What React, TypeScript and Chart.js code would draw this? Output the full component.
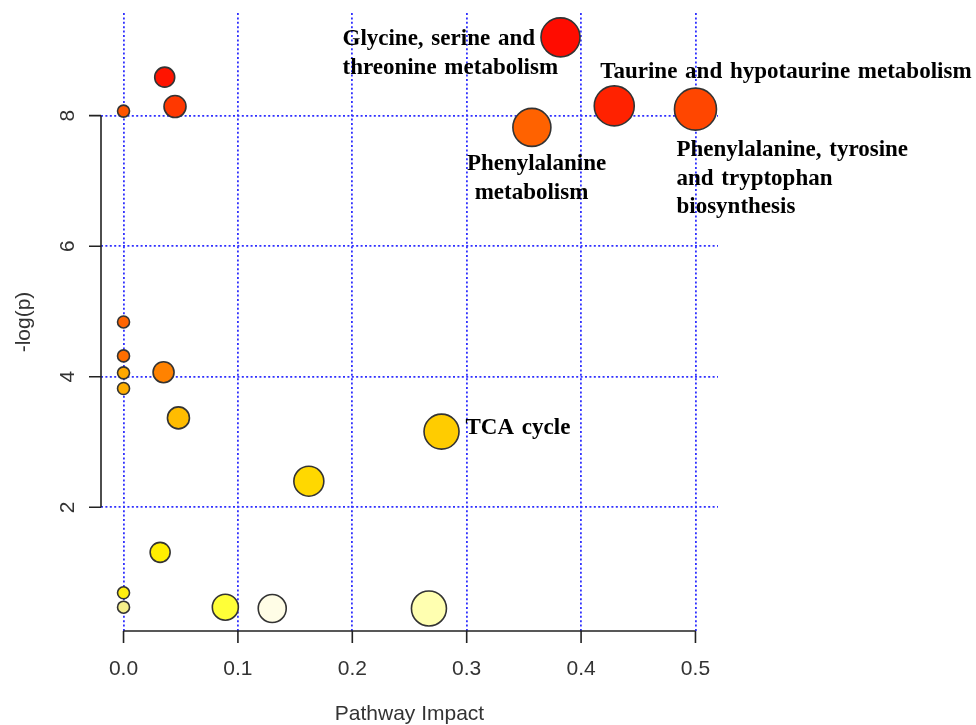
import React, { useEffect, useRef } from "react";
import { Chart, registerables } from "chart.js";

Chart.register(...registerables);

// ---- data ----
const pathwayNames = [
  "Glycine, serine and threonine metabolism",
  "Taurine and hypotaurine metabolism",
  "Phenylalanine, tyrosine and tryptophan biosynthesis",
  "Phenylalanine metabolism",
  "TCA cycle",
  "p6", "p7", "p8", "p9", "p10", "p11", "p12", "p13", "p14",
  "p15", "p16", "p17", "p18", "p19", "p20", "p21",
];
const pathwayImpact = [
  0.382, 0.429, 0.5, 0.357, 0.278, 0.162, 0.267, 0.130, 0.089, 0.032,
  0.0, 0.0, 0.048, 0.035, 0.0, 0.0, 0.0, 0.0, 0.036, 0.045, 0.0,
];
const negLogP = [
  9.2, 8.15, 8.1, 7.82, 3.16, 2.4, 0.45, 0.45, 0.47, 1.31,
  0.69, 0.47, 3.37, 4.07, 4.84, 4.32, 4.06, 3.82, 8.59, 8.14, 8.07,
];
const bubbleRadius = [
  19.5, 20, 21, 19, 17.5, 15, 17.5, 14, 13, 10,
  6, 6, 11, 10.5, 6, 6, 6, 6, 10, 11, 6,
];
const bubbleColors = [
  "#ff0c00", "#ff2200", "#ff4600", "#ff6200", "#ffcc00", "#ffd800", "#ffffb0", "#fffde6", "#ffff38", "#ffee00",
  "#ffee10", "#f5ef8a", "#ffbc00", "#ff8200", "#ff6400", "#ff6e00", "#ffa800", "#ffae00", "#ff1400", "#ff3800", "#ff5400",
];

const xTicks = [0, 0.1, 0.2, 0.3, 0.4, 0.5];
const xTickLabels = ["0.0", "0.1", "0.2", "0.3", "0.4", "0.5"];
const yTicks = [2, 4, 6, 8];
const yTickLabels = ["2", "4", "6", "8"];
const xTitle = "Pathway Impact";
const yTitle = "-log(p)";

// annotated pathways (index into data arrays) and their text lines
const annotations = [
  { index: 0, lines: ["Glycine, serine and", "threonine metabolism"] },
  { index: 1, lines: ["Taurine and hypotaurine metabolism"] },
  { index: 2, lines: ["Phenylalanine, tyrosine", "and tryptophan", "biosynthesis"] },
  { index: 3, lines: ["Phenylalanine", " metabolism"] },
  { index: 4, lines: ["TCA cycle"] },
];
// label placement relative to the bubble centre (pixels)
const annotationOffsets = [
  { dx: -218, dy: 8 },
  { dx: -14, dy: -28 },
  { dx: -19, dy: 47 },
  { dx: -65, dy: 43 },
  { dx: 24, dy: 2 },
];

const GRID_COLOR = "#3030ff";
const AXIS_COLOR = "#222222";
const TEXT_COLOR = "#333333";
const SANS = "'Liberation Sans', Arial, sans-serif";
const SERIF = "'Liberation Serif', 'Times New Roman', serif";

const rAxesPlugin = {
  id: "rAxes",
  afterDraw(chart: any) {
    const { ctx, chartArea } = chart;
    const xs = chart.scales.x;
    const ys = chart.scales.y;
    ctx.save();
    // axis lines (R style)
    ctx.strokeStyle = AXIS_COLOR;
    ctx.lineWidth = 1.6;
    const yb = chartArea.bottom;
    const xl = chartArea.left;
    ctx.beginPath();
    ctx.moveTo(xs.getPixelForValue(xTicks[0]), yb);
    ctx.lineTo(xs.getPixelForValue(xTicks[xTicks.length - 1]), yb);
    xTicks.forEach((v) => {
      const px = xs.getPixelForValue(v);
      ctx.moveTo(px, yb);
      ctx.lineTo(px, yb + 12);
    });
    ctx.moveTo(xl, ys.getPixelForValue(yTicks[0]));
    ctx.lineTo(xl, ys.getPixelForValue(yTicks[yTicks.length - 1]));
    yTicks.forEach((v) => {
      const py = ys.getPixelForValue(v);
      ctx.moveTo(xl, py);
      ctx.lineTo(xl - 12, py);
    });
    ctx.stroke();

    // tick labels
    ctx.fillStyle = TEXT_COLOR;
    ctx.font = `21px ${SANS}`;
    ctx.textAlign = "center";
    ctx.textBaseline = "alphabetic";
    xTicks.forEach((v, i) => {
      ctx.fillText(xTickLabels[i], xs.getPixelForValue(v), yb + 44);
    });
    yTicks.forEach((v, i) => {
      ctx.save();
      ctx.translate(xl - 27, ys.getPixelForValue(v));
      ctx.rotate(-Math.PI / 2);
      ctx.fillText(yTickLabels[i], 0, 0);
      ctx.restore();
    });
    // axis titles
    ctx.fillText(xTitle, (chartArea.left + chartArea.right) / 2, yb + 89);
    ctx.save();
    ctx.translate(xl - 71, (chartArea.top + chartArea.bottom) / 2);
    ctx.rotate(-Math.PI / 2);
    ctx.fillText(yTitle, 0, 0);
    ctx.restore();

    // pathway annotations
    ctx.fillStyle = "#000000";
    ctx.font = `bold 23px ${SERIF}`;
    ctx.textAlign = "left";
    try {
      (ctx as any).wordSpacing = "2px";
    } catch (e) {
      /* ignore */
    }
    annotations.forEach((a, k) => {
      const px = xs.getPixelForValue(pathwayImpact[a.index]);
      const py = ys.getPixelForValue(negLogP[a.index]);
      const off = annotationOffsets[k];
      a.lines.forEach((line, j) => {
        ctx.fillText(line, px + off.dx, py + off.dy + j * 28.5);
      });
    });
    ctx.restore();
  },
};

export default function App() {
  const canvasRef = useRef<HTMLCanvasElement>(null);

  useEffect(() => {
    if (!canvasRef.current) return;
    const data = pathwayImpact.map((x, i) => ({ x, y: negLogP[i], r: bubbleRadius[i] }));
    const chart = new Chart(canvasRef.current, {
      type: "bubble",
      data: {
        labels: pathwayNames,
        datasets: [
          {
            label: "Pathways",
            data,
            backgroundColor: bubbleColors,
            borderColor: "#333333",
            borderWidth: 1.6,
            hoverRadius: 0,
            clip: false,
          } as any,
        ],
      },
      options: {
        animation: false,
        responsive: false,
        devicePixelRatio: 1,
        events: [],
        layout: { autoPadding: false, padding: { left: 101, right: 258, top: 13, bottom: 94 } },
        plugins: {
          legend: { display: false },
          tooltip: { enabled: false },
        },
        scales: {
          x: {
            type: "linear",
            min: -0.0197,
            max: 0.5197,
            afterBuildTicks: (s: any) => {
              s.ticks = xTicks.map((v) => ({ value: v }));
            },
            afterFit: (s: any) => {
              s.height = 0;
            },
            ticks: { display: false },
            title: { display: false },
            grid: { color: GRID_COLOR, lineWidth: 1.8, drawTicks: false },
            border: { display: false, dash: [2, 2.4] },
          },
          y: {
            type: "linear",
            min: 0.105,
            max: 9.573,
            afterBuildTicks: (s: any) => {
              s.ticks = yTicks.map((v) => ({ value: v }));
            },
            afterFit: (s: any) => {
              s.width = 0;
            },
            ticks: { display: false },
            title: { display: false },
            grid: { color: GRID_COLOR, lineWidth: 1.8, drawTicks: false },
            border: { display: false, dash: [2, 2.4] },
          },
        },
      } as any,
      plugins: [rAxesPlugin],
    });
    return () => chart.destroy();
  }, []);

  return (
    <div style={{ position: "fixed", left: 0, top: 0, width: 976, height: 725, background: "#ffffff" }}>
      <canvas ref={canvasRef} width={976} height={725} style={{ display: "block", width: 976, height: 725 }} />
    </div>
  );
}
